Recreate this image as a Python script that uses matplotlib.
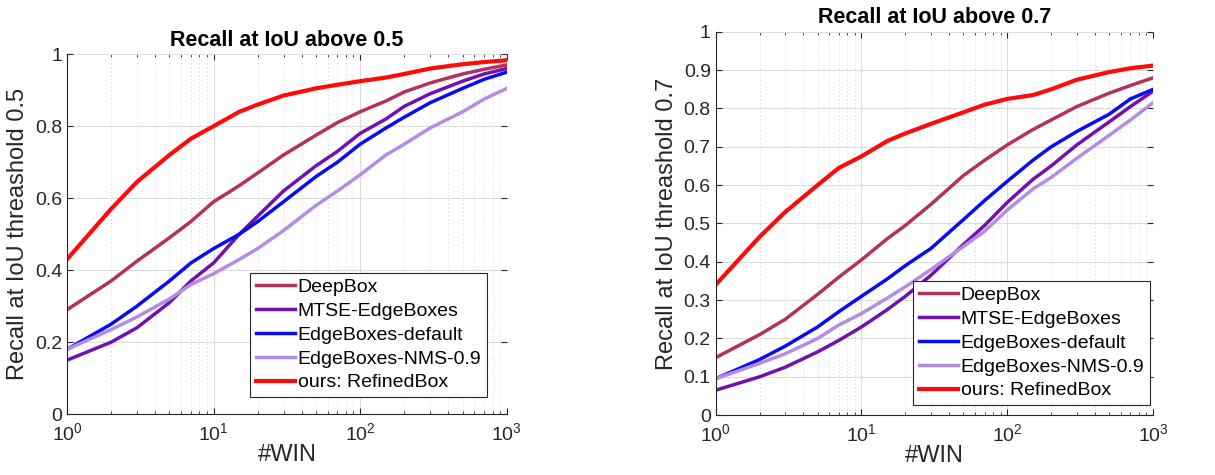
import numpy as np
import matplotlib
matplotlib.use('Agg')
import matplotlib.pyplot as plt
from matplotlib.ticker import LogLocator, NullFormatter, MultipleLocator

plt.rcParams['font.family'] = ['Liberation Sans', 'DejaVu Sans']
plt.rcParams['mathtext.fontset'] = 'custom'
plt.rcParams['mathtext.rm'] = 'Liberation Sans'
plt.rcParams['mathtext.it'] = 'Liberation Sans'

# number of windows
win = [1, 2, 3, 5, 7, 10, 15, 20, 30, 50, 70, 100, 150, 200, 300, 500, 700, 1000]

names = ['DeepBox', 'MTSE-EdgeBoxes', 'EdgeBoxes-default', 'EdgeBoxes-NMS-0.9', 'ours: RefinedBox']
colors = ['#B3305F', '#7410B0', '#0A0AF5', '#B48CE2', '#FF0A0A']

# recall at IoU 0.5
deepbox_05 = [0.29, 0.37, 0.425, 0.49, 0.535, 0.59, 0.635, 0.67, 0.72, 0.775, 0.81, 0.84, 0.87, 0.895, 0.92, 0.945, 0.958, 0.97]
mtse_05 = [0.15, 0.20, 0.24, 0.31, 0.37, 0.42, 0.50, 0.55, 0.62, 0.69, 0.73, 0.78, 0.82, 0.855, 0.89, 0.925, 0.945, 0.96]
edge_05 = [0.18, 0.25, 0.30, 0.37, 0.42, 0.46, 0.50, 0.535, 0.59, 0.66, 0.70, 0.75, 0.795, 0.825, 0.865, 0.905, 0.93, 0.95]
nms_05 = [0.18, 0.235, 0.27, 0.32, 0.36, 0.39, 0.43, 0.46, 0.51, 0.58, 0.62, 0.665, 0.72, 0.75, 0.795, 0.84, 0.875, 0.905]
ours_05 = [0.43, 0.57, 0.645, 0.72, 0.765, 0.80, 0.84, 0.86, 0.885, 0.905, 0.915, 0.925, 0.935, 0.945, 0.96, 0.972, 0.978, 0.983]

# recall at IoU 0.7
deepbox_07 = [0.15, 0.21, 0.25, 0.315, 0.36, 0.405, 0.46, 0.495, 0.55, 0.625, 0.665, 0.705, 0.745, 0.77, 0.805, 0.84, 0.86, 0.88]
mtse_07 = [0.065, 0.10, 0.125, 0.165, 0.195, 0.23, 0.275, 0.31, 0.365, 0.445, 0.495, 0.555, 0.615, 0.65, 0.705, 0.765, 0.805, 0.845]
edge_07 = [0.095, 0.145, 0.18, 0.23, 0.27, 0.31, 0.355, 0.39, 0.435, 0.51, 0.56, 0.61, 0.665, 0.70, 0.74, 0.785, 0.825, 0.85]
nms_07 = [0.095, 0.135, 0.16, 0.20, 0.235, 0.265, 0.305, 0.335, 0.38, 0.44, 0.48, 0.535, 0.59, 0.62, 0.67, 0.73, 0.77, 0.815]
ours_07 = [0.34, 0.465, 0.53, 0.60, 0.645, 0.675, 0.715, 0.735, 0.76, 0.79, 0.81, 0.825, 0.835, 0.85, 0.875, 0.895, 0.905, 0.912]

fig = plt.figure(figsize=(12.15, 4.75), dpi=100)
ax1 = fig.add_axes([0.0551, 0.128, 0.362, 0.758])
ax2 = fig.add_axes([0.589, 0.126, 0.360, 0.807])


def draw(ax, series, title, ylabel, ystep, legend_box):
    for vals, name, c in zip(series, names, colors):
        lw = 3.0 if name.startswith('ours') else 2.5
        ax.plot(win, vals, color=c, lw=lw, label=name)
    ax.set_xscale('log')
    ax.set_xlim(1, 1000)
    ax.set_ylim(0, 1)
    ax.yaxis.set_major_locator(MultipleLocator(ystep))
    ax.set_yticklabels(['0' if abs(t) < 1e-9 else ('1' if abs(t - 1) < 1e-9 else ('%g' % t))
                        for t in ax.get_yticks()])
    ax.xaxis.set_minor_locator(LogLocator(base=10, subs=np.arange(2, 10)))
    ax.xaxis.set_minor_formatter(NullFormatter())
    ax.grid(True, which='major', color='#dcdcdc', lw=0.8)
    ax.grid(True, which='minor', axis='x', color='#d0d0d0', lw=0.7, ls=(0, (1, 3)))
    ax.set_axisbelow(True)
    ax.tick_params(which='both', direction='in', top=True, right=True, labelsize=14,
                   colors='#262626', labelcolor='#262626')
    ax.tick_params(which='major', length=4)
    ax.tick_params(which='minor', length=2)
    ax.tick_params(axis='x', pad=6)
    for s in ['top', 'right']:
        ax.spines[s].set_visible(False)
    for s in ['left', 'bottom']:
        ax.spines[s].set_color('#262626')
    ax.set_title(title, fontsize=15.5, fontweight='bold', pad=6)
    ax.set_xlabel('#WIN', fontsize=17, color='#262626', labelpad=0)
    ax.set_ylabel(ylabel, fontsize=17, color='#262626', labelpad=4)
    leg = ax.legend(loc='lower right', bbox_to_anchor=legend_box, fontsize=14, frameon=True,
                    fancybox=False, edgecolor='#262626', handlelength=2.0, handletextpad=0.15,
                    labelspacing=0.32, borderpad=0.3, borderaxespad=0.0, framealpha=1)
    leg.get_frame().set_linewidth(0.8)


draw(ax1, [deepbox_05, mtse_05, edge_05, nms_05, ours_05],
     'Recall at IoU above 0.5', 'Recall at IoU threashold 0.5', 0.2, (0.955, 0.047))
draw(ax2, [deepbox_07, mtse_07, edge_07, nms_07, ours_07],
     'Recall at IoU above 0.7', 'Recall at IoU threashold 0.7', 0.1, (0.993, 0.026))

fig.savefig('out.png', dpi=100)
